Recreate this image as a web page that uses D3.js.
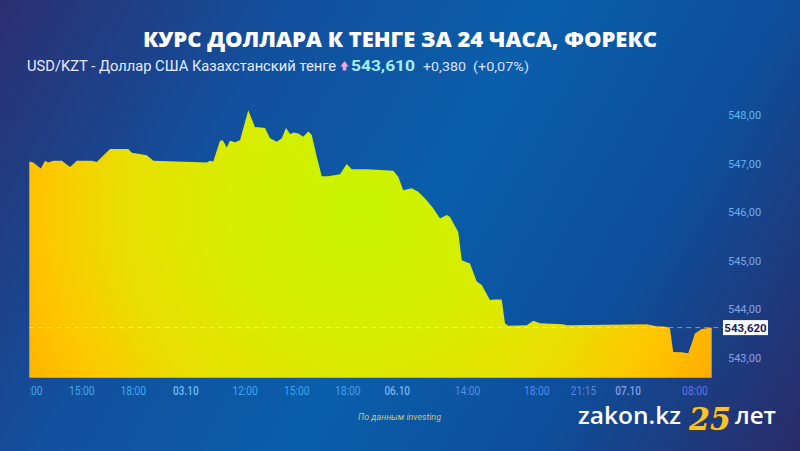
<!DOCTYPE html>
<html>
<head>
<meta charset="utf-8">
<script src="https://cdn.jsdelivr.net/npm/d3@7/dist/d3.min.js"></script>
<style>
body { margin: 0; background: #1b3a80; }
svg { display: block; }
</style>
</head>
<body>
<div id="chart"></div>
<script>
// bar index along the chart and USD/KZT rate
var barIndex = [0, 1.6, 4.6, 6.3, 7.6, 9.6, 13, 16.3, 19, 25, 27, 32.3, 39.6, 41, 47, 49.6,
    71, 72.3, 73.6, 76.3, 77.4, 79, 80.3, 82.3, 84.3, 87.6, 90.3, 91.6, 94.3, 96.3, 99, 101,
    102.7, 104.3, 105.9, 107.6, 109.6, 111.6, 113, 115, 117, 119.6, 124.3, 127, 129, 135,
    145.6, 147.6, 149.6, 153, 155.6, 158.3, 161.6, 164.3, 167, 168.3, 171.6, 173, 176.3, 179,
    181, 184.3, 186.3, 189, 190.3, 191.6, 199, 201.6, 204.3, 213.6, 215, 247, 251, 255, 256.3,
    257.6, 261, 263.6, 265, 266.3, 269, 273];
var rateValues = [547.04, 547.02, 546.90, 547.06, 547.02, 547.06, 547.06, 546.93, 547.06, 547.06, 547.03, 547.30, 547.30, 547.22, 547.17, 547.06,
    547.02, 547.06, 547.04, 547.47, 547.48, 547.33, 547.47, 547.44, 547.48, 548.10, 547.75, 547.75, 547.73, 547.52, 547.45, 547.52,
    547.73, 547.61, 547.64, 547.62, 547.55, 547.66, 547.59, 547.14, 546.74, 546.74, 546.78, 546.99, 546.88, 546.88,
    546.85, 546.73, 546.45, 546.49, 546.42, 546.28, 546.08, 545.87, 545.94, 545.90, 545.59, 545.01, 544.94, 544.57,
    544.50, 544.19, 544.20, 544.20, 543.71, 543.66, 543.67, 543.76, 543.71, 543.69, 543.67, 543.69, 543.65, 543.64, 543.60,
    543.12, 543.11, 543.09, 543.30, 543.50, 543.59, 543.62];
var tickIndex = [0, 20.8, 41.4, 62.4, 86.1, 106.8, 127.2, 147, 175.1, 202.8, 221.5, 239.4, 266.1];
var tickLabels = ["12:00", "15:00", "18:00", "03.10", "12:00", "15:00", "18:00", "06.10", "14:00", "18:00", "21:15", "07.10", "08:00"];
var rateTicks = [543, 544, 545, 546, 547, 548];
var lastRate = 543.62;
var quote = {pair: "USD/KZT - Доллар США Казахстанский тенге", price: "543,610", change: "+0,380", pct: "(+0,07%)"};

var width = 800, height = 451;
var plotBottom = 377.7;

var svg = d3.select("#chart")
    .append("svg")
    .attr("width", width)
    .attr("height", height);

var defs = svg.append("defs");

// background gradient
var bg = defs.append("linearGradient")
    .attr("id", "bg")
    .attr("gradientUnits", "userSpaceOnUse")
    .attr("x1", 0).attr("y1", 0).attr("x2", width).attr("y2", height);
[[0, "#2b2f70"], [0.28, "#12509e"], [0.52, "#0a5eaa"], [0.74, "#0d4f9c"], [1, "#2a2b68"]].forEach(function (s) {
    bg.append("stop").attr("offset", s[0]).attr("stop-color", s[1]);
});

// area gradient
var ag = defs.append("radialGradient")
    .attr("id", "areaFill")
    .attr("gradientUnits", "userSpaceOnUse")
    .attr("cx", 360).attr("cy", 210).attr("r", 400);
[[0, "#c8f400"], [0.3, "#d6ee00"], [0.58, "#e8e000"], [0.8, "#ffc600"], [1, "#ffa900"]].forEach(function (s) {
    ag.append("stop").attr("offset", s[0]).attr("stop-color", s[1]);
});

defs.append("clipPath")
    .attr("id", "axisClip")
    .append("rect")
    .attr("x", 29.5).attr("y", 370).attr("width", 771).attr("height", 40);

svg.append("rect")
    .attr("width", width)
    .attr("height", height)
    .attr("fill", "url(#bg)");

var x = d3.scaleLinear().domain([0, 273]).range([29.3, 711.7]);
var y = d3.scaleLinear().domain([543, 548]).range([357.7, 115]);

var data = barIndex.map(function (d, i) { return {i: d, v: rateValues[i]}; });

var area = d3.area()
    .x(function (d) { return x(d.i); })
    .y0(plotBottom)
    .y1(function (d) { return y(d.v); });

svg.append("path")
    .datum(data)
    .attr("d", area)
    .attr("fill", "url(#areaFill)");

// last price dashed line
svg.append("line")
    .attr("x1", x(0))
    .attr("x2", 723)
    .attr("y1", y(lastRate))
    .attr("y2", y(lastRate))
    .attr("stroke", "#ffffff")
    .attr("stroke-opacity", 0.45)
    .attr("stroke-dasharray", "5,4");

// y axis on the right
var yAxis = svg.append("g")
    .attr("transform", "translate(720,0)")
    .call(d3.axisRight(y)
        .tickValues(rateTicks)
        .tickSize(0)
        .tickPadding(8)
        .tickFormat(function (d) { return d.toFixed(2).replace(".", ","); }));
yAxis.select(".domain").remove();
yAxis.selectAll("text")
    .attr("font-family", "Roboto, sans-serif")
    .attr("font-size", 11)
    .attr("fill", function (d) { return d3.interpolateRgb("#5bb8f0", "#8aa0e6")((548 - d) / 5); });

// price label
var pl = svg.append("g")
    .attr("transform", "translate(723," + y(lastRate) + ")");
pl.append("rect")
    .attr("x", 0).attr("y", -7.5)
    .attr("width", 45).attr("height", 15)
    .attr("fill", "#ffffff");
pl.append("text")
    .attr("x", 22.5).attr("y", 4)
    .attr("text-anchor", "middle")
    .attr("font-family", "Roboto, sans-serif")
    .attr("font-weight", "bold")
    .attr("font-size", 11.5)
    .attr("fill", "#18205a")
    .text(lastRate.toFixed(3).replace(".", ","));

// x axis, clipped at the plot's left edge
var xClip = svg.append("g").attr("clip-path", "url(#axisClip)");
var xAxis = xClip.append("g")
    .attr("transform", "translate(0," + plotBottom + ")")
    .call(d3.axisBottom(x)
        .tickValues(tickIndex)
        .tickSize(0)
        .tickPadding(9)
        .tickFormat(function (d, i) { return tickLabels[i]; }));
xAxis.select(".domain").remove();
xAxis.selectAll("text")
    .attr("font-family", "Roboto, sans-serif")
    .attr("font-size", 12)
    .attr("textLength", 25.7)
    .attr("lengthAdjust", "spacingAndGlyphs")
    .attr("font-weight", function (d, i) { return tickLabels[i].indexOf(".") > 0 ? 500 : 400; })
    .attr("fill", function (d, i) {
        var c = d3.interpolateRgb("#3eaaec", "#6a6ee0")(Math.pow(d / 273, 2));
        return tickLabels[i].indexOf(".") > 0 ? d3.interpolateRgb(c, "#cfeaff")(0.3) : c;
    });

// title and quote line
svg.append("text")
    .attr("x", 143).attr("y", 46.5)
    .attr("textLength", 514)
    .attr("lengthAdjust", "spacingAndGlyphs")
    .attr("font-family", "'Open Sans', sans-serif")
    .attr("font-weight", 800)
    .attr("font-size", 21)
    .attr("fill", "#ffffff")
    .text("КУРС ДОЛЛАРА К ТЕНГЕ ЗА 24 ЧАСА, ФОРЕКС");

var sub = svg.append("g")
    .attr("font-family", "Roboto, sans-serif")
    .attr("font-size", 14);
sub.append("text")
    .attr("x", 27).attr("y", 70.5)
    .attr("textLength", 309).attr("lengthAdjust", "spacingAndGlyphs")
    .attr("fill", "#e6ecff")
    .text(quote.pair);
sub.append("path")
    .attr("d", "M340.5,66.5 L344.5,61 L348.5,66.5 L346.3,66.5 L346.3,70.5 L342.7,70.5 L342.7,66.5 Z")
    .attr("fill", "#f4a6e4");
sub.append("text")
    .attr("x", 351).attr("y", 70.5)
    .attr("textLength", 64).attr("lengthAdjust", "spacingAndGlyphs")
    .attr("font-weight", "bold")
    .attr("fill", "#a6ecff")
    .text(quote.price);
sub.append("text")
    .attr("x", 423).attr("y", 70.5)
    .attr("textLength", 43).attr("lengthAdjust", "spacingAndGlyphs")
    .attr("font-size", 13)
    .attr("fill", "#d6e0ff")
    .text(quote.change);
sub.append("text")
    .attr("x", 473).attr("y", 70.5)
    .attr("textLength", 56).attr("lengthAdjust", "spacingAndGlyphs")
    .attr("font-size", 13)
    .attr("fill", "#d6e0ff")
    .text(quote.pct);

// source note
svg.append("text")
    .attr("x", 358).attr("y", 420)
    .attr("textLength", 83).attr("lengthAdjust", "spacingAndGlyphs")
    .attr("font-family", "Roboto, sans-serif")
    .attr("font-style", "italic")
    .attr("font-size", 9.5)
    .attr("fill", "#c9c27e")
    .text("По данным investing");

// logo
var logo = svg.append("g")
    .attr("font-family", "'Open Sans', sans-serif")
    .attr("font-weight", 600)
    .attr("fill", "#ffffff");
logo.append("text")
    .attr("x", 578).attr("y", 424)
    .attr("font-size", 23)
    .attr("textLength", 103).attr("lengthAdjust", "spacingAndGlyphs")
    .text("zakon.kz");
logo.append("text")
    .attr("x", 689).attr("y", 430)
    .attr("font-family", "'DejaVu Serif', serif")
    .attr("font-weight", "bold")
    .attr("font-style", "italic")
    .attr("font-size", 32)
    .attr("textLength", 42).attr("lengthAdjust", "spacingAndGlyphs")
    .attr("fill", "#f3c42f")
    .attr("stroke", "#5a3e10")
    .attr("stroke-width", 1)
    .attr("paint-order", "stroke")
    .text("25");
logo.append("text")
    .attr("x", 735).attr("y", 424)
    .attr("font-size", 23)
    .attr("textLength", 41).attr("lengthAdjust", "spacingAndGlyphs")
    .text("лет");
</script>
</body>
</html>
